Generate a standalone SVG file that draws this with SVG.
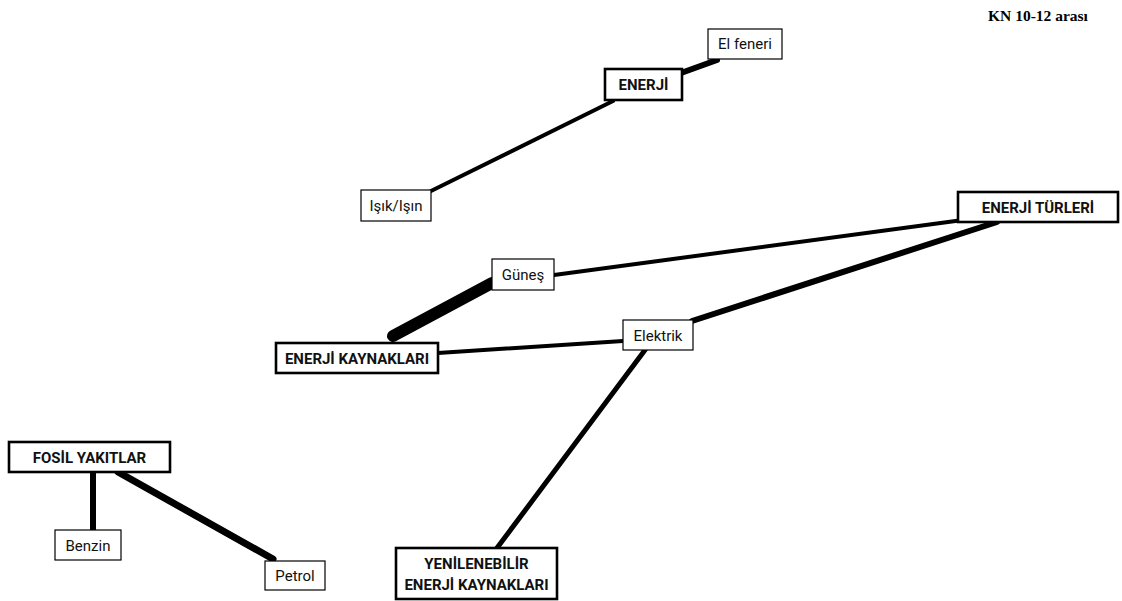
<svg xmlns="http://www.w3.org/2000/svg" width="1122" height="601" viewBox="0 0 1122 601">
  <style>
    .bg { fill: #ffffff; }
    .box { fill: #ffffff; stroke: #000000; stroke-width: 1.2; }
    .main { fill: #ffffff; stroke: #000000; stroke-width: 2.6; }
    .lbl { font-family: Roboto, "DejaVu Sans", sans-serif; font-size: 15px; fill: #111111; text-anchor: middle; dominant-baseline: central; }
    .bold { font-weight: bold; }
    .link { stroke: #000000; stroke-linecap: round; fill: none; }
    .note { font-family: "Liberation Serif", serif; font-size: 15.5px; font-weight: bold; fill: #000000; }
  </style>
  <rect class="bg" x="0" y="0" width="1122" height="601"/>

  <text class="note" x="988" y="21">KN 10-12 arası</text>

  <g id="connectors">
    <line class="link" x1="681" y1="73" x2="717" y2="60" stroke-width="6"/>
    <line class="link" x1="613" y1="101" x2="431" y2="191" stroke-width="4"/>
    <line class="link" x1="963" y1="220" x2="554" y2="275" stroke-width="4"/>
    <line class="link" x1="997" y1="222" x2="692" y2="321" stroke-width="6"/>
    <line class="link" x1="492" y1="283" x2="393" y2="336" stroke-width="12"/>
    <line class="link" x1="438" y1="353" x2="623" y2="341" stroke-width="4"/>
    <line class="link" x1="645" y1="350" x2="497" y2="548" stroke-width="5"/>
    <line class="link" x1="93" y1="472" x2="93" y2="529" stroke-width="6"/>
    <line class="link" x1="118" y1="472" x2="273" y2="559" stroke-width="7"/>
  </g>

  <g id="node-el-feneri">
    <rect class="box" x="708" y="29" width="74" height="30"/>
    <text class="lbl" x="745" y="44">El feneri</text>
  </g>
  <g id="node-enerji">
    <rect class="main" x="605" y="69" width="77" height="31"/>
    <text class="lbl bold" x="643.5" y="85">ENERJİ</text>
  </g>
  <g id="node-isik">
    <rect class="box" x="361" y="190" width="70" height="31"/>
    <text class="lbl" x="396" y="206">Işık/Işın</text>
  </g>
  <g id="node-enerji-turleri">
    <rect class="main" x="958" y="192" width="160" height="30"/>
    <text class="lbl bold" x="1038" y="207.5">ENERJİ TÜRLERİ</text>
  </g>
  <g id="node-gunes">
    <rect class="box" x="492" y="259" width="62" height="31"/>
    <text class="lbl" x="523" y="275">Güneş</text>
  </g>
  <g id="node-elektrik">
    <rect class="box" x="623" y="320" width="70" height="30"/>
    <text class="lbl" x="658" y="335.5">Elektrik</text>
  </g>
  <g id="node-enerji-kaynaklari">
    <rect class="main" x="276" y="343" width="162" height="30"/>
    <text class="lbl bold" x="357" y="358.5">ENERJİ KAYNAKLARI</text>
  </g>
  <g id="node-yenilenebilir">
    <rect class="main" x="396" y="548" width="161" height="51"/>
    <text class="lbl bold" x="476.5" y="564">YENİLENEBİLİR</text>
    <text class="lbl bold" x="476.5" y="585">ENERJİ KAYNAKLARI</text>
  </g>
  <g id="node-fosil">
    <rect class="main" x="9" y="442" width="161" height="30"/>
    <text class="lbl bold" x="89.5" y="457.5">FOSİL YAKITLAR</text>
  </g>
  <g id="node-benzin">
    <rect class="box" x="55" y="530" width="66" height="30"/>
    <text class="lbl" x="88" y="545.5">Benzin</text>
  </g>
  <g id="node-petrol">
    <rect class="box" x="265" y="561" width="60" height="29"/>
    <text class="lbl" x="295" y="576">Petrol</text>
  </g>
</svg>
